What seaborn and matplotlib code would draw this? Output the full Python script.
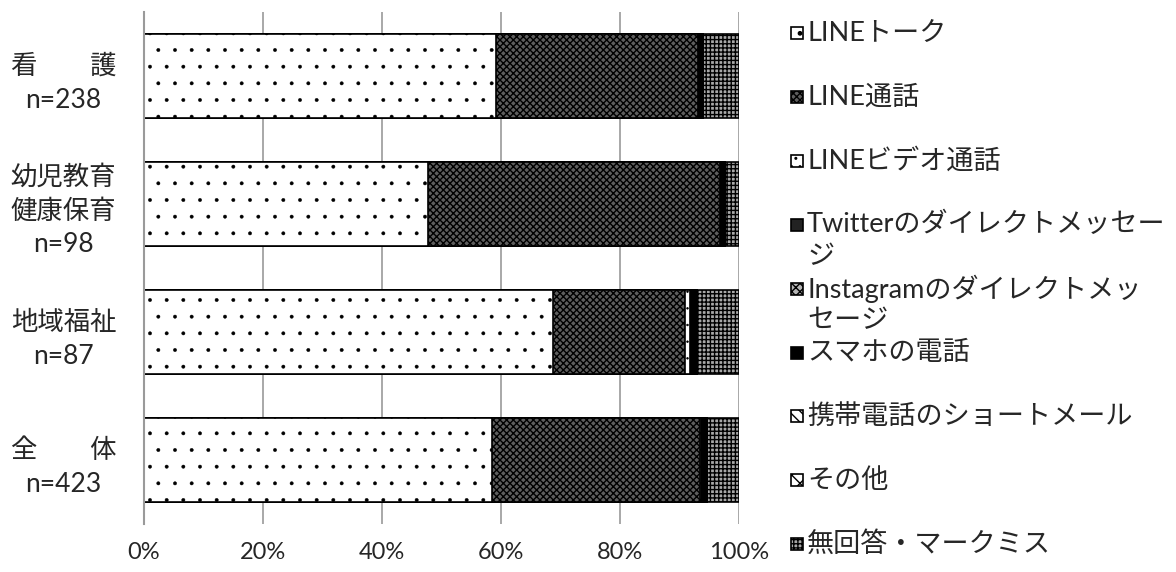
import matplotlib
matplotlib.use("Agg")
import matplotlib.pyplot as plt
from matplotlib.patches import Rectangle
import seaborn as sns
import numpy as np
import pandas as pd

# ---- data (percent of respondents) ----
categories = ["看　　護\nn=238", "幼児教育\n健康保育\nn=98", "地域福祉\nn=87", "全　　体\nn=423"]
series_names = ["LINEトーク", "LINE通話", "LINEビデオ通話",
                "Twitterのダイレクトメッセー\nジ", "Instagramのダイレクトメッ\nセージ",
                "スマホの電話", "携帯電話のショートメール", "その他", "無回答・マークミス"]
line_talk = [59.2, 47.7, 68.7, 58.5]
line_call = [33.9, 49.1, 22.2, 34.9]
line_video = [0.0, 0.0, 0.8, 0.2]
twitter_dm = [0.0, 0.0, 0.0, 0.0]
instagram_dm = [0.0, 0.0, 0.0, 0.0]
phone_call = [0.9, 0.8, 1.2, 1.0]
short_mail = [0.0, 0.0, 0.0, 0.0]
other = [0.0, 0.0, 0.0, 0.0]
no_answer = [6.0, 2.4, 7.1, 5.4]
x_ticks = [0, 20, 40, 60, 80, 100]

series_values = [line_talk, line_call, line_video, twitter_dm, instagram_dm,
                 phone_call, short_mail, other, no_answer]

# styles: (facecolor, hatch, hatch linewidth)
styles = [("white", ".", 0.3), ("#5e5e5e", "xxxxx", 1.0), ("white", "..", 0.5), ("#222222", "", 1.0),
          ("#b5b5b5", "xxxx", 1.0), ("black", "", 1.0), ("white", "\\\\\\", 1.0), ("white", "xx", 1.0),
          ("#a8a8a8", "++++", 1.0)]

sns.set_style("white")
plt.rcParams['font.family'] = ['Lato', 'Noto Sans CJK JP', 'DejaVu Sans']
plt.rcParams['hatch.linewidth'] = 1.0


def apply_style(p, st):
    p.set_facecolor(st[0])
    p.set_hatch(st[1])
    if hasattr(p, "set_hatch_linewidth"):
        p.set_hatch_linewidth(st[2])


fig = plt.figure(figsize=(11.76, 5.72), dpi=100)
ax = fig.add_axes([144/1176, 1-524/572, (739-144)/1176, (524-12)/572])

vals = np.array(series_values)
cum = np.cumsum(vals, axis=0)

# draw cumulative bars from last series to first (overlay stacking)
for i in range(len(series_names)-1, -1, -1):
    df = pd.DataFrame({"cat": categories, "val": cum[i]})
    n_before = len(ax.patches)
    sns.barplot(data=df, x="val", y="cat", orient="h", color=styles[i][0],
                saturation=1, width=0.65, edgecolor="black", linewidth=1.2, ax=ax, zorder=2)
    for p in ax.patches[n_before:]:
        apply_style(p, styles[i])

ax.set_xlim(0, 100)
ax.set_xticks(x_ticks)
ax.set_xticklabels([f"{t}%" for t in x_ticks])
ax.grid(axis="x", color="#9a9a9a", linewidth=1.2, zorder=0)
ax.set_axisbelow(True)
for s in ["top", "right", "bottom"]:
    ax.spines[s].set_visible(False)
ax.spines["left"].set_color("#9a9a9a")
ax.spines["left"].set_linewidth(1.5)
ax.set_xlabel("")
ax.set_ylabel("")
ax.tick_params(axis="y", length=0, pad=20, labelsize=19)
ax.tick_params(axis="x", length=0, pad=13, labelsize=17)
for t in ax.get_yticklabels():
    t.set_multialignment("center")
    t.set_linespacing(1.45)

# legend (manual, to mimic Excel layout)
W, H = 1176, 572
for i, name in enumerate(series_names):
    yc = 33 + 63.9 * i
    st = styles[i]
    r = Rectangle((791/W, 1-(yc+6)/H), 12/W, 12/H, transform=fig.transFigure,
                  facecolor=st[0], hatch=st[1], edgecolor="black", linewidth=1.2)
    fig.patches.append(r)
    lines = name.split("\n")
    for j, ln in enumerate(lines):
        fig.text(807/W, 1-(yc + 32*j)/H, ln, ha="left", va="center", fontsize=19.5)

fig.savefig("out.png", dpi=100)
